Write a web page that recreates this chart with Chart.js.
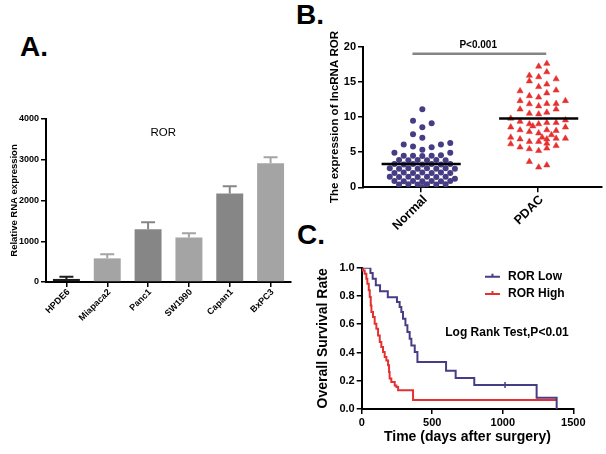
<!DOCTYPE html>
<html>
<head>
<meta charset="utf-8">
<script src="https://cdn.jsdelivr.net/npm/chart.js@4.4.0/dist/chart.umd.min.js"></script>
<style>
  body { margin: 0; background: #fff; width: 606px; height: 454px; position: relative; overflow: hidden; }
  .panel { position: absolute; font: bold 28px "Liberation Sans", Arial, sans-serif; line-height: 28px; color: #000; }
  canvas { position: absolute; }
</style>
</head>
<body>
<div class="panel" style="left:20px;top:33px">A.</div>
<div class="panel" style="left:296px;top:1px">B.</div>
<div class="panel" style="left:297px;top:221px">C.</div>
<canvas id="chartA" width="300" height="240" style="left:0;top:100px"></canvas>
<canvas id="chartB" width="316" height="240" style="left:290px;top:0"></canvas>
<canvas id="chartC" width="316" height="234" style="left:290px;top:220px"></canvas>
<script>
// A: relative RNA expression of ROR in cell lines
const cellLines = ['HPDE6', 'Miapaca2', 'Panc1', 'SW1990', 'Capan1', 'BxPC3'];
const rorExpression = [75, 580, 1295, 1095, 2170, 2915];
const rorError = [55, 100, 170, 100, 180, 145];

// B: lncRNA ROR expression, [offset from category centre, value]
const groupNames = ['Normal', 'PDAC'];
const normalPoints = [
  [0.01, 11.1], [-0.07, 9.45], [0.09, 9.1], [0.01, 8.55], [-0.07, 7.55], [0.01, 7.05],
  [-0.15, 6.1], [0.17, 6.1], [0.25, 6.3], [-0.07, 5.8], [0.09, 5.7], [0.01, 5.35],
  [-0.23, 4.9], [0.25, 4.9], [-0.15, 4.5], [-0.07, 4.5], [0.01, 4.45], [0.09, 4.5], [0.17, 4.55],
  [-0.19, 3.9], [-0.11, 3.85], [-0.03, 3.9], [0.05, 3.85], [0.13, 3.9], [0.21, 3.85],
  [-0.23, 3.3], [-0.15, 3.25], [-0.07, 3.3], [0.01, 3.25], [0.09, 3.3], [0.17, 3.25], [0.25, 3.3],
  [-0.27, 2.7], [-0.19, 2.65], [-0.11, 2.7], [-0.03, 2.65], [0.05, 2.7], [0.13, 2.65], [0.21, 2.7], [0.29, 2.65],
  [-0.23, 2.05], [-0.15, 2.1], [-0.07, 2.05], [0.01, 2.1], [0.09, 2.05], [0.17, 2.1], [0.25, 2.05],
  [-0.27, 1.5], [-0.19, 1.45], [-0.11, 1.5], [-0.03, 1.45], [0.05, 1.5], [0.13, 1.45], [0.21, 1.5], [0.29, 1.2],
  [-0.23, 0.9], [-0.15, 0.85], [-0.07, 0.9], [0.01, 0.85], [0.09, 0.9], [0.17, 0.85], [0.25, 0.9],
  [-0.19, 0.4], [-0.11, 0.45], [-0.03, 0.4], [0.05, 0.45], [0.13, 0.4], [0.21, 0.45], [0.01, 0.05]
];
const pdacPoints = [
  [0.08, 17.6], [0.01, 17.2], [0.08, 16.4], [-0.07, 15.9], [0.01, 15.7], [-0.07, 15.1], [0.16, 15.4],
  [0.01, 14.3], [0.08, 14.65], [-0.15, 13.7], [-0.07, 13.0], [0.01, 12.8], [0.08, 13.4], [0.16, 13.8],
  [0.24, 12.3], [-0.15, 12.3], [-0.07, 11.85], [0.01, 11.55], [0.08, 11.9], [0.16, 11.9], [0.16, 11.1],
  [-0.15, 11.1], [-0.07, 10.5], [0.01, 10.4], [0.08, 10.65],
  [-0.23, 9.8], [-0.15, 9.35], [-0.07, 9.0], [-0.04, 8.7], [0.01, 9.0], [0.08, 9.2], [0.16, 9.2], [0.24, 9.55],
  [-0.23, 8.55], [-0.15, 8.15], [-0.07, 7.9], [0.01, 7.7], [0.04, 7.1], [0.08, 8.15], [0.16, 8.05], [0.24, 8.55],
  [-0.23, 7.1], [-0.15, 6.85], [-0.07, 6.5], [0.01, 6.5], [0.08, 6.85], [0.12, 7.45], [0.16, 6.95], [0.24, 6.95],
  [-0.23, 6.15], [-0.15, 5.7], [-0.07, 5.45], [0.01, 5.2], [0.08, 5.55], [0.16, 5.9], [0.08, 6.25],
  [-0.07, 3.65], [0.01, 2.85], [0.08, 3.15]
];
const groupMeans = [3.3, 9.8];
const significanceLevel = 19;

// C: Kaplan-Meier overall survival
const lowDays = [0, 62, 78, 100, 130, 185, 250, 269, 281, 293, 310, 324, 340, 352, 376, 395, 598, 666, 798, 1240, 1382];
const lowSurvival = [1, 0.962, 0.922, 0.875, 0.833, 0.79, 0.757, 0.722, 0.686, 0.639, 0.592, 0.545, 0.498, 0.45, 0.403, 0.333, 0.27, 0.22, 0.17, 0.08, 0];
const lowCensored = [[1016, 0.17]];
const highDays = [0, 9, 21, 33, 40, 50, 57, 64, 69, 80, 92, 104, 116, 128, 139, 151, 163, 175, 187, 194, 198, 210, 234, 246, 258, 364, 1382];
const highSurvival = [1, 0.981, 0.958, 0.922, 0.887, 0.84, 0.792, 0.733, 0.686, 0.651, 0.604, 0.568, 0.521, 0.474, 0.439, 0.403, 0.368, 0.344, 0.309, 0.262, 0.215, 0.191, 0.167, 0.156, 0.132, 0.064, 0.064];

const barColors = ['#1d1d1d', '#a4a4a4', '#868686', '#a4a4a4', '#868686', '#a4a4a4'];
const purple = '#473d85';
const red = '#e5302f';

Chart.defaults.font.family = '"Liberation Sans", Arial, sans-serif';
Chart.defaults.color = '#000';
Chart.defaults.animation = false;

function axisStyle(extra) {
  return Object.assign({
    grid: { drawOnChartArea: false, color: '#000', lineWidth: 1.5, tickLength: 5, offset: false },
    border: { color: '#000', width: 2 }
  }, extra);
}

// ---- A ----
const errorBars = {
  id: 'errorBars',
  afterDatasetsDraw(chart) {
    const { ctx, scales: { x, y } } = chart;
    ctx.save();
    ctx.lineWidth = 2;
    rorExpression.forEach((v, i) => {
      const px = x.getPixelForValue(i);
      const base = y.getPixelForValue(v);
      const top = y.getPixelForValue(v + rorError[i]);
      ctx.strokeStyle = barColors[i];
      ctx.beginPath();
      ctx.moveTo(px, base); ctx.lineTo(px, top);
      ctx.moveTo(px - 7, top); ctx.lineTo(px + 7, top);
      ctx.stroke();
    });
    ctx.fillStyle = '#000';
    ctx.font = '11.5px "Liberation Sans", Arial, sans-serif';
    ctx.textAlign = 'center';
    ctx.textBaseline = 'middle';
    ctx.fillText('ROR', x.getPixelForValue(2.37), y.getPixelForValue(3650));
    ctx.restore();
  }
};

new Chart(document.getElementById('chartA'), {
  type: 'bar',
  data: {
    labels: cellLines,
    datasets: [{ data: rorExpression, backgroundColor: barColors, barPercentage: 0.66, categoryPercentage: 1 }]
  },
  options: {
    responsive: false,
    layout: { padding: { top: 19, right: 9, left: 4.3, bottom: 0 } },
    plugins: { legend: { display: false }, tooltip: { enabled: false } },
    scales: {
      x: axisStyle({
        ticks: { font: { size: 9, weight: 'bold' }, maxRotation: 45, minRotation: 45, padding: 0, labelOffset: 2, autoSkip: false },
        afterFit: s => { s.height = 58; }
      }),
      y: axisStyle({
        min: 0, max: 4000,
        ticks: { stepSize: 1000, callback: v => String(v), font: { size: 9, weight: 'bold' }, padding: 2 },
        title: { display: true, text: 'Relative RNA expression', font: { size: 9.5, weight: 'bold' } },
        afterFit: s => { s.width = 41.7; }
      })
    }
  },
  plugins: [errorBars]
});

// ---- B ----
const sigText = {
  id: 'sigText',
  afterDatasetsDraw(chart) {
    const { ctx, scales: { x, y } } = chart;
    ctx.save();
    ctx.fillStyle = '#000';
    ctx.font = 'bold 10px "Liberation Sans", Arial, sans-serif';
    ctx.textAlign = 'center';
    ctx.textBaseline = 'middle';
    ctx.fillText('P<0.001', x.getPixelForValue(1.49), y.getPixelForValue(significanceLevel) - 8);
    ctx.restore();
  }
};

new Chart(document.getElementById('chartB'), {
  type: 'scatter',
  data: {
    datasets: [
      { data: [{ x: 0.66, y: groupMeans[0] }, { x: 1.34, y: groupMeans[0] }], showLine: true, borderColor: '#000', borderWidth: 2.5, pointRadius: 0, order: 0 },
      { data: [{ x: 1.67, y: groupMeans[1] }, { x: 2.35, y: groupMeans[1] }], showLine: true, borderColor: '#000', borderWidth: 2.5, pointRadius: 0, order: 0 },
      { data: [{ x: 0.925, y: significanceLevel }, { x: 2.075, y: significanceLevel }], showLine: true, borderColor: '#858585', borderWidth: 2.5, pointRadius: 0, order: 0 },
      { data: normalPoints.map(p => ({ x: 1 + p[0], y: p[1] })), pointStyle: 'circle', pointRadius: 3, backgroundColor: purple, borderWidth: 0, order: 1 },
      { data: pdacPoints.map(p => ({ x: 2 + p[0], y: p[1] })), pointStyle: 'triangle', pointRadius: 3.6, backgroundColor: red, borderColor: red, borderWidth: 0.5, order: 1 }
    ]
  },
  options: {
    responsive: false,
    layout: { padding: { top: 46.7, right: 3, left: 34, bottom: 0 } },
    plugins: { legend: { display: false }, tooltip: { enabled: false } },
    scales: {
      x: axisStyle({
        type: 'linear', min: 0.5, max: 2.55,
        afterBuildTicks: s => { s.ticks = groupNames.map((n, i) => ({ value: i + 1 })); },
        ticks: { callback: (v, i) => groupNames[i], font: { size: 12.5, weight: 'bold' }, maxRotation: 45, minRotation: 45, padding: 0, labelOffset: 4 },
        afterFit: s => { s.height = 52.7; }
      }),
      y: axisStyle({
        min: 0, max: 20,
        ticks: { stepSize: 5, font: { size: 11, weight: 'bold' }, padding: 2 },
        title: { display: true, text: 'The expression of lncRNA ROR', font: { size: 11.5, weight: 'bold' } },
        afterFit: s => { s.width = 39; }
      })
    }
  },
  plugins: [sigText]
});

// ---- C ----
const kmLegend = {
  id: 'kmLegend',
  afterDatasetsDraw(chart) {
    const { ctx, scales: { x, y } } = chart;
    const items = [['ROR Low', purple, 0.936], ['ROR High', red, 0.814]];
    ctx.save();
    ctx.font = 'bold 12px "Liberation Sans", Arial, sans-serif';
    ctx.textBaseline = 'middle';
    items.forEach(([label, color, level]) => {
      const py = y.getPixelForValue(level);
      const x0 = x.getPixelForValue(874), x1 = x.getPixelForValue(980);
      ctx.strokeStyle = color;
      ctx.lineWidth = 2;
      ctx.beginPath();
      ctx.moveTo(x0, py); ctx.lineTo(x1, py);
      ctx.moveTo((x0 + x1) / 2, py); ctx.lineTo((x0 + x1) / 2, py - 3);
      ctx.stroke();
      ctx.fillStyle = '#000';
      ctx.textAlign = 'left';
      ctx.fillText(label, x.getPixelForValue(1037), py);
    });
    ctx.textAlign = 'center';
    ctx.fillText('Log Rank Test,P<0.01', x.getPixelForValue(1030), y.getPixelForValue(0.54));
    ctx.restore();
  }
};

new Chart(document.getElementById('chartC'), {
  type: 'scatter',
  data: {
    datasets: [
      { data: lowDays.map((d, i) => ({ x: d, y: lowSurvival[i] })), showLine: true, stepped: 'before', borderColor: purple, borderWidth: 2, pointRadius: 0 },
      { data: highDays.map((d, i) => ({ x: d, y: highSurvival[i] })), showLine: true, stepped: 'before', borderColor: red, borderWidth: 2, pointRadius: 0 },
      { data: lowCensored.map(p => ({ x: p[0], y: p[1] })), pointStyle: 'line', rotation: 90, pointRadius: 3, borderColor: purple, borderWidth: 1.5 }
    ]
  },
  options: {
    responsive: false,
    layout: { padding: { top: 47.7, right: 32.7, left: 20.6, bottom: 4 } },
    plugins: { legend: { display: false }, tooltip: { enabled: false } },
    scales: {
      x: axisStyle({
        min: 0, max: 1500,
        ticks: { stepSize: 500, callback: v => String(v), font: { size: 11, weight: 'bold' }, padding: 2 },
        title: { display: true, text: 'Time (days after surgery)', font: { size: 14, weight: 'bold' }, padding: { top: 0, bottom: 4 } },
        afterFit: s => { s.height = 41; }
      }),
      y: axisStyle({
        min: 0, max: 1,
        ticks: { stepSize: 0.2, callback: v => v.toFixed(1), font: { size: 11, weight: 'bold' }, padding: 2 },
        title: { display: true, text: 'Overall Survival Rate', font: { size: 14, weight: 'bold' } },
        afterFit: s => { s.width = 51.1; }
      })
    }
  },
  plugins: [kmLegend]
});
</script>
</body>
</html>
